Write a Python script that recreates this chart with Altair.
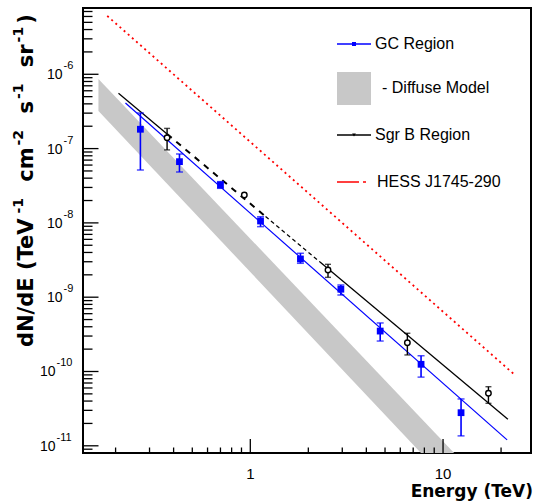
import altair as alt
import pandas as pd

# ---------------- data ----------------
# GC Region (blue filled squares)
gc_E = [0.269, 0.429, 0.70, 1.13, 1.82, 2.95, 4.72, 7.69, 12.4]
gc_F = [1.82e-7, 6.67e-8, 3.24e-8, 1.06e-8, 3.27e-9, 1.28e-9, 3.5e-10, 1.25e-10, 2.79e-11]
gc_hi = [3.01e-7, 8.46e-8, 3.59e-8, 1.21e-8, 3.9e-9, 1.46e-9, 4.5e-10, 1.63e-10, 4.27e-11]
gc_lo = [5.15e-8, 4.84e-8, 2.92e-8, 8.9e-9, 2.86e-9, 1.07e-9, 2.57e-10, 8.4e-11, 1.36e-11]
gc_fit_E = [0.225, 21.5]
gc_fit_F = [4.11e-7, 1.2e-11]

# Sgr B Region (black open markers)
sgr_E = [0.370, 0.931, 2.53, 6.53, 17.2]
sgr_F = [1.40e-7, 2.37e-8, 2.32e-9, 2.44e-10, 5.09e-11]
sgr_err_E = [0.370, 2.53, 6.53, 17.2]
sgr_hi = [1.87e-7, 2.77e-9, 3.27e-10, 6.24e-11]
sgr_lo = [9.6e-8, 1.85e-9, 1.67e-10, 3.73e-11]
sgr_fit_E = [0.207, 0.37, 1.2, 2.3, 21.7]
sgr_fit_F = [5.55e-7, 1.57e-7, 1.22e-8, 2.97e-9, 2.27e-11]

# HESS J1745-290
hess_E = [0.181, 23.6]
hess_F = [6.1e-6, 8.97e-11]

# Diffuse model band
band_E = [0.163, 15.0]
band_hi = [8.65e-7, 3.8e-12]
band_lo = [3.2e-7, 1.27e-12]

# axis ticks / labels
x_major = [1, 10]
x_major_labels = ["1", "10"]
x_minor = [0.2, 0.3, 0.4, 0.5, 0.6, 0.7, 0.8, 0.9, 2, 3, 4, 5, 6, 7, 8, 9, 20]
y_major = [1e-6, 1e-7, 1e-8, 1e-9, 1e-10, 1e-11]
y_exp = ["-6", "-7", "-8", "-9", "-10", "-11"]
y_minor = [m * 10.0 ** d for d in range(-12, -5) for m in range(2, 10)
           if 8.0e-12 <= m * 10.0 ** d <= 7.8e-6]

legend_labels = ["GC Region", "- Diffuse Model", "Sgr B Region", "HESS J1745-290"]
x_title_text = "Energy (TeV)"
# y title pieces: (text, is_superscript)
y_title_parts = [("dN/dE (TeV", False), ("-1", True), ("cm", False), ("-2", True),
                 ("s", False), ("-1", True), ("sr", False), ("-1", True), (")", False)]

# ---------------- scales ----------------
W, H = 448, 445
xs = alt.Scale(type="log", domain=[0.1355, 28.6], nice=False)
ys = alt.Scale(type="log", domain=[8.0e-12, 7.8e-6], nice=False)


def X(f="E"):
    return alt.X(f"{f}:Q", scale=xs, axis=None)


def Y(f="F"):
    return alt.Y(f"{f}:Q", scale=ys, axis=None)


one = pd.DataFrame({"a": [0]})

# ---------------- data layers ----------------
band = alt.Chart(pd.DataFrame({"E": band_E, "hi": band_hi, "lo": band_lo})).mark_area(
    color="#c8c8c8", clip=True, opacity=1
).encode(x=X(), y=Y("hi"), y2="lo:Q")

hess = alt.Chart(pd.DataFrame({"E": hess_E, "F": hess_F})).mark_line(
    color="#ff0000", strokeWidth=1.8, strokeDash=[2, 3.5], clip=True
).encode(x=X(), y=Y())

gc_df = pd.DataFrame({"E": gc_E, "F": gc_F, "hi": gc_hi, "lo": gc_lo})
gc_fit = alt.Chart(pd.DataFrame({"E": gc_fit_E, "F": gc_fit_F})).mark_line(
    color="#0000ff", strokeWidth=1.2, clip=True
).encode(x=X(), y=Y())
gc_bar = alt.Chart(gc_df).mark_rule(color="#0000ff", strokeWidth=1.6, clip=True).encode(
    x=X(), y=Y("lo"), y2="hi:Q")
gc_cap_hi = alt.Chart(gc_df).mark_tick(color="#0000ff", orient="horizontal", size=7,
                                        thickness=1.5, clip=True).encode(x=X(), y=Y("hi"))
gc_cap_lo = alt.Chart(gc_df).mark_tick(color="#0000ff", orient="horizontal", size=7,
                                        thickness=1.5, clip=True).encode(x=X(), y=Y("lo"))
gc_pts = alt.Chart(gc_df).mark_square(color="#0000ff", size=46, opacity=1, clip=True).encode(
    x=X(), y=Y())

sgr_fit_df = pd.DataFrame({"E": sgr_fit_E, "F": sgr_fit_F})
seg_styles = [
    dict(strokeWidth=1.3),
    dict(strokeWidth=2.0, strokeDash=[6, 6]),
    dict(strokeWidth=1.2, strokeDash=[4, 3]),
    dict(strokeWidth=1.3),
]
sgr_lines = [
    alt.Chart(sgr_fit_df.iloc[i:i + 2]).mark_line(color="black", clip=True, **st).encode(
        x=X(), y=Y())
    for i, st in enumerate(seg_styles)
]
sgr_err_df = pd.DataFrame({"E": sgr_err_E, "hi": sgr_hi, "lo": sgr_lo})
sgr_bar = alt.Chart(sgr_err_df).mark_rule(color="black", strokeWidth=1.4, clip=True).encode(
    x=X(), y=Y("lo"), y2="hi:Q")
sgr_cap_hi = alt.Chart(sgr_err_df).mark_tick(color="black", orient="horizontal", size=6,
                                              thickness=1.4, clip=True).encode(x=X(), y=Y("hi"))
sgr_cap_lo = alt.Chart(sgr_err_df).mark_tick(color="black", orient="horizontal", size=6,
                                              thickness=1.4, clip=True).encode(x=X(), y=Y("lo"))
sgr_pts = alt.Chart(pd.DataFrame({"E": sgr_E, "F": sgr_F})).mark_point(
    shape="circle", filled=False, fill="white", fillOpacity=1, stroke="black",
    size=30, strokeWidth=1.4, opacity=1, clip=True
).encode(x=X(), y=Y())

# ---------------- axes (inward ticks, labels) ----------------
tick_style = dict(color="black", strokeWidth=1.3)
y_maj_t = alt.Chart(pd.DataFrame({"v": y_major})).mark_rule(**tick_style).encode(
    y=Y("v"), x=alt.value(0), x2=alt.value(15.5))
y_min_t = alt.Chart(pd.DataFrame({"v": y_minor})).mark_rule(**tick_style).encode(
    y=Y("v"), x=alt.value(0), x2=alt.value(9.5))
x_maj_t = alt.Chart(pd.DataFrame({"v": x_major})).mark_rule(**tick_style).encode(
    x=X("v"), y=alt.value(H), y2=alt.value(H - 14))
x_min_t = alt.Chart(pd.DataFrame({"v": x_minor})).mark_rule(**tick_style).encode(
    x=X("v"), y=alt.value(H), y2=alt.value(H - 5.5))

ylab_df = pd.DataFrame({"v": y_major, "e": y_exp, "b": ["10"] * len(y_major)})
ylab_df["long"] = ylab_df["e"].str.len() > 2
ylab_short = ylab_df[~ylab_df["long"]]
ylab_long = ylab_df[ylab_df["long"]]
lab_font = dict(font="Liberation Sans", color="black")
y_ten_s = alt.Chart(ylab_short).mark_text(align="right", baseline="middle", fontSize=14, dy=1,
                                          **lab_font).encode(y=Y("v"), x=alt.value(-20.5), text="b:N")
y_ten_l = alt.Chart(ylab_long).mark_text(align="right", baseline="middle", fontSize=14, dy=1,
                                         **lab_font).encode(y=Y("v"), x=alt.value(-27.5), text="b:N")
y_exp_s = alt.Chart(ylab_short).mark_text(align="left", baseline="middle", fontSize=11, dy=-8,
                                          **lab_font).encode(y=Y("v"), x=alt.value(-19.5), text="e:N")
y_exp_l = alt.Chart(ylab_long).mark_text(align="left", baseline="middle", fontSize=11, dy=-8,
                                         **lab_font).encode(y=Y("v"), x=alt.value(-26.5), text="e:N")
x_lab = alt.Chart(pd.DataFrame({"v": x_major, "t": x_major_labels})).mark_text(
    align="center", baseline="middle", fontSize=15, **lab_font
).encode(x=X("v"), y=alt.value(H + 21), text="t:N")

x_title = alt.Chart(one).mark_text(
    text=x_title_text, align="right", baseline="middle", font="DejaVu Sans",
    fontWeight="bold", fontSize=17, color="black"
).encode(x=alt.value(450), y=alt.value(H + 39))

# y title built from pieces (main text + raised exponents), read bottom-to-top
adv = {"d": .716, "N": .837, "/": .365, "E": .683, " ": .348, "(": .457, ")": .457,
       "T": .682, "e": .678, "V": .774, "c": .592, "m": 1.042, "s": .595, "r": .493,
       "-": .415, "1": .696, "2": .696}
MAIN_FS, SUP_FS = 21, 14
GAP_BEFORE_SUP, GAP_AFTER_SUP, GAP_PAREN = 2.0, 9.0, 3.0
y_title_layers = []
pos = 339.0  # start (bottom end) of the title, relative to plot top
for i, (txt, sup) in enumerate(y_title_parts):
    fs = SUP_FS if sup else MAIN_FS
    if i > 0:
        if sup:
            pos -= GAP_BEFORE_SUP
        elif txt == ")":
            pos -= GAP_PAREN
        else:
            pos -= GAP_AFTER_SUP + adv[" "] * MAIN_FS
    y_title_layers.append(
        alt.Chart(one).mark_text(
            text=txt, align="left", baseline="alphabetic", angle=270,
            font="DejaVu Sans", fontWeight="bold", fontSize=fs, color="black"
        ).encode(x=alt.value(-60 if sup else -50), y=alt.value(pos))
    )
    pos -= sum(adv[c] for c in txt) * fs

# ---------------- legend ----------------
lx0, lx1 = 254, 288
leg_gc_line = alt.Chart(one).mark_rule(color="#0000ff", strokeWidth=1.5).encode(
    x=alt.value(lx0), x2=alt.value(lx1), y=alt.value(36))
leg_gc_pt = alt.Chart(one).mark_square(color="#0000ff", size=16, opacity=1).encode(
    x=alt.value(271), y=alt.value(36))
leg_band = alt.Chart(one).mark_rect(color="#c8c8c8").encode(
    x=alt.value(lx0), x2=alt.value(lx1), y=alt.value(64), y2=alt.value(97))
leg_sgr_line = alt.Chart(one).mark_rule(color="black", strokeWidth=1.3).encode(
    x=alt.value(lx0), x2=alt.value(lx1), y=alt.value(127))
leg_sgr_pt = alt.Chart(one).mark_point(shape="triangle-down", filled=True, color="black",
                                       size=14, opacity=1).encode(x=alt.value(271), y=alt.value(127))
leg_hess_line = alt.Chart(one).mark_rule(color="#ff0000", strokeWidth=1.5,
                                         strokeDash=[22, 4, 3, 40]).encode(
    x=alt.value(lx0), x2=alt.value(285), y=alt.value(174))
leg_font = dict(font="Liberation Sans", fontSize=16, color="black", align="left", baseline="middle")
leg_texts = [
    alt.Chart(one).mark_text(text=legend_labels[0], **leg_font).encode(x=alt.value(292), y=alt.value(36)),
    alt.Chart(one).mark_text(text=legend_labels[1], **leg_font).encode(x=alt.value(299), y=alt.value(80)),
    alt.Chart(one).mark_text(text=legend_labels[2], **leg_font).encode(x=alt.value(292), y=alt.value(127)),
    alt.Chart(one).mark_text(text=legend_labels[3], **leg_font).encode(x=alt.value(294), y=alt.value(174)),
]

chart = alt.layer(
    band, hess, *sgr_lines, gc_fit,
    gc_bar, gc_cap_hi, gc_cap_lo, gc_pts,
    sgr_bar, sgr_cap_hi, sgr_cap_lo, sgr_pts,
    y_maj_t, y_min_t, x_maj_t, x_min_t,
    y_ten_s, y_ten_l, y_exp_s, y_exp_l, x_lab, x_title, *y_title_layers,
    leg_gc_line, leg_gc_pt, leg_band, leg_sgr_line, leg_sgr_pt, leg_hess_line, *leg_texts,
).properties(
    width=W, height=H,
    padding={"left": 83, "top": 8, "right": 4, "bottom": 51},
    autosize=alt.AutoSizeParams(type="none"),
    background="white",
).configure_view(stroke="black", strokeWidth=2)

chart.save("out.html", embed_options={"renderer": "svg", "actions": False})
